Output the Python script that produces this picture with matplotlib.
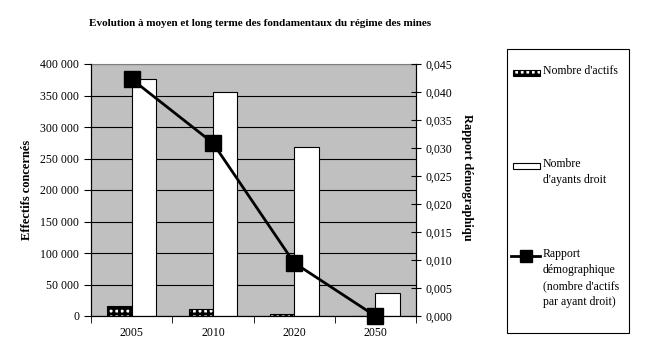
import numpy as np
import matplotlib
matplotlib.use("Agg")
import matplotlib.pyplot as plt
from matplotlib.patches import Rectangle
from matplotlib.lines import Line2D
from matplotlib.ticker import FuncFormatter, MultipleLocator

plt.rcParams['font.family'] = ['Liberation Serif', 'DejaVu Serif']
plt.rcParams['hatch.linewidth'] = 2.0

annees = ['2005', '2010', '2020', '2050']
actifs = [15900, 11000, 2550, 0]
ayants_droit = [376000, 355000, 268000, 36500]
rapport = [0.0423, 0.0309, 0.0095, 0.0]

W, H = 651, 362
fig = plt.figure(figsize=(W / 100, H / 100), dpi=100)
ax = fig.add_axes([91 / W, 1 - 316 / H, 325 / W, 252 / H])
ax.set_facecolor('#c0c0c0')

x = np.arange(len(annees))
w = 0.3
ax.bar(x - w / 2, actifs, width=w, facecolor='white', edgecolor='black',
       hatch='+++', linewidth=0.8, zorder=2)
ax.bar(x + w / 2, ayants_droit, width=w, facecolor='white', edgecolor='black',
       linewidth=0.8, zorder=2)

ax.set_xlim(-0.5, len(annees) - 0.5)
ax.set_ylim(0, 400000)
ax.yaxis.set_major_locator(MultipleLocator(50000))
ax.yaxis.set_major_formatter(FuncFormatter(lambda v, p: '{:,.0f}'.format(v).replace(',', ' ')))
ax.set_axisbelow(True)
ax.grid(axis='y', color='black', linewidth=0.8)
ax.set_xticks(x)
ax.set_xticklabels(annees)
ax.set_xticks(np.arange(-0.5, len(annees)), minor=True)
ax.tick_params(axis='x', which='major', length=0, labelsize=8.5, pad=8)
ax.tick_params(axis='x', which='minor', length=5, direction='out')
ax.tick_params(axis='y', labelsize=8.5, length=5, direction='out')
for s in ['left', 'bottom', 'right']:
    ax.spines[s].set_color('black')
ax.spines['top'].set_color('#808080')
ax.set_ylabel('Effectifs concernés', fontsize=9, fontweight='bold', labelpad=5)

ax2 = ax.twinx()
ax2.plot(x, rapport, color='black', linewidth=2, marker='s', markersize=11,
         markerfacecolor='black', clip_on=False, zorder=3)
ax2.set_ylim(0, 0.045)
ax2.yaxis.set_major_locator(MultipleLocator(0.005))
ax2.yaxis.set_major_formatter(FuncFormatter(lambda v, p: '{:.3f}'.format(v).replace('.', ',')))
ax2.tick_params(axis='y', labelsize=8.5, length=7, direction='inout')
ax2.spines['top'].set_visible(False)
ax2.set_ylabel('Rapport démographiqu', fontsize=9, fontweight='bold', rotation=-90)
ax2.yaxis.set_label_coords(1.175, 0.55)

fig.text(260 / W, 1 - 24 / H, 'Evolution à moyen et long terme des fondamentaux du régime des mines',
         ha='center', va='center', fontsize=8, fontweight='bold')

# legend, drawn by hand in figure pixels
def fx(px):
    return px / W

def fy(py):
    return 1 - py / H

fig.patches.append(Rectangle((fx(507), fy(333)), fx(629) - fx(507), fy(49) - fy(333),
                             transform=fig.transFigure, facecolor='white',
                             edgecolor='black', linewidth=0.8))
fig.patches.append(Rectangle((fx(513), fy(76)), fx(540) - fx(513), fy(70) - fy(76),
                             transform=fig.transFigure, facecolor='white',
                             edgecolor='black', hatch='+++', linewidth=0.8))
fig.patches.append(Rectangle((fx(513), fy(169)), fx(540) - fx(513), fy(163) - fy(169),
                             transform=fig.transFigure, facecolor='white',
                             edgecolor='black', linewidth=0.8))
fig.lines.append(Line2D([fx(511), fx(526), fx(540)], [fy(256)] * 3, transform=fig.transFigure,
                        color='black', linewidth=2, marker='s', markersize=9,
                        markevery=[1], markerfacecolor='black'))

leg_labels = ["Nombre d'actifs", "Nombre\nd'ayants droit",
              "Rapport\ndémographique\n(nombre d'actifs\npar ayant droit)"]
leg_y = [73, 166, 256]
for lab, yy in zip(leg_labels, leg_y):
    fig.text(fx(543), fy(yy - 8), lab, ha='left', va='top', fontsize=8.5,
             linespacing=1.45)

fig.savefig('out.png', dpi=100)
